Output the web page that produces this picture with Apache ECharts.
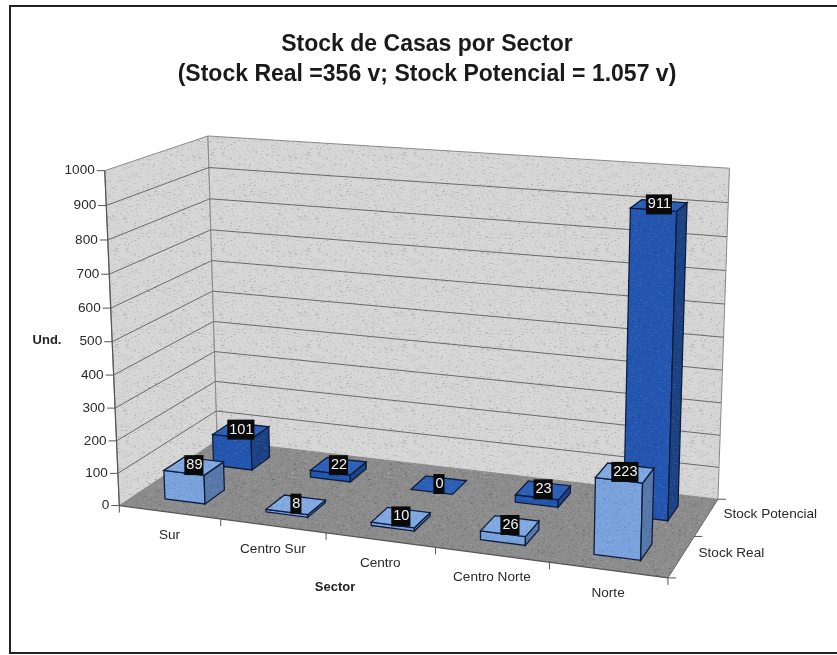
<!DOCTYPE html>
<html><head><meta charset="utf-8">
<style>html,body{margin:0;padding:0;background:#fff}#c{width:837px;height:655px}</style>
<script src="https://cdn.jsdelivr.net/npm/echarts@6/dist/echarts.min.js"></script>
</head><body><div id="c"></div>
<script>
const categories = ['Sur','Centro Sur','Centro','Centro Norte','Norte'];
const seriesNames = ['Stock Real','Stock Potencial'];
const stockReal = [89,8,10,26,223];
const stockPotencial = [101,22,0,23,911];
const yTicks = [0,100,200,300,400,500,600,700,800,900,1000];

// Calibration of the oblique 3D view: [u, depth, v, pixelX, pixelY]
const view = [
 [0,0,0,120,504],[0,0,.5,112,341],[0,0,1,106,170],
 [0,1,0,218,441],[0,1,.5,212,291],[0,1,1,207,136],
 [1,1,0,717,498],[1,1,.5,723,338],[1,1,1,730,169],
 [.2,0,0,221,520],[.4,0,0,325,535],[.6,0,0,435,548],[.8,0,0,548,563],[1,0,0,667,577],
 [1,.5,0,698,535]
];
function fit(obs){
  const n=11,A=[...Array(n)].map(()=>Array(n+1).fill(0));
  const add=(r,b)=>{for(let i=0;i<n;i++){for(let j=0;j<n;j++)A[i][j]+=r[i]*r[j];A[i][n]+=r[i]*b;}};
  obs.forEach(([X,Y,Z,px,py])=>{
    add([X,Y,Z,1,0,0,0,0,-px*X,-px*Y,-px*Z],px);
    add([0,0,0,0,X,Y,Z,1,-py*X,-py*Y,-py*Z],py);
  });
  for(let c=0;c<n;c++){
    let m=c;for(let r=c+1;r<n;r++)if(Math.abs(A[r][c])>Math.abs(A[m][c]))m=r;
    [A[c],A[m]]=[A[m],A[c]];
    for(let r=0;r<n;r++){if(r===c)continue;const f=A[r][c]/A[c][c];for(let j=c;j<=n;j++)A[r][j]-=f*A[c][j];}
  }
  return A.map((row,i)=>row[n]/row[i]);
}
const P=fit(view);
function project(u,d,v){
  const w=P[8]*u+P[9]*d+P[10]*v+1;
  return [(P[0]*u+P[1]*d+P[2]*v+P[3])/w,(P[4]*u+P[5]*d+P[6]*v+P[7])/w];
}
// paper-grain tiles (deterministic)
function tile(rgb,amp,seed){
  const c=document.createElement('canvas');c.width=c.height=96;
  const g=c.getContext('2d');let s=seed;
  const rnd=()=>{s=(s*1664525+1013904223)%4294967296;return s/4294967296;};
  g.fillStyle=`rgb(${rgb})`;g.fillRect(0,0,96,96);
  for(let i=0;i<3200;i++){
    const k=rnd()<.5?0:255;
    g.fillStyle=`rgba(${k},${k},${k},${rnd()*amp})`;
    g.fillRect(Math.floor(rnd()*96),Math.floor(rnd()*96),1+Math.floor(rnd()*2),1);
  }
  return {image:c,repeat:'repeat'};
}
const wallFill=tile('214,214,214',.11,11);
const floorFill=tile('140,140,140',.12,23);
const faceFill=[
 {front:tile('122,163,222',.08,31),side:tile('88,120,170',.08,37),top:tile('130,170,226',.08,41)},
 {front:tile('34,86,176',.08,43),side:tile('28,66,132',.08,47),top:tile('44,96,184',.08,53)}
];
const poly=(pts,fill,stroke,w)=>({type:'polygon',shape:{points:pts},style:{fill,stroke:stroke||'none',lineWidth:w||0}});
const line=(a,b,stroke,w)=>({type:'line',shape:{x1:a[0],y1:a[1],x2:b[0],y2:b[1]},style:{stroke,lineWidth:w||1,fill:null}});
const txt=(x,y,t,o)=>({type:'text',x,y,style:Object.assign({text:t,fill:'#2a2a2a',font:'13.6px "Liberation Sans"',textAlign:'center',textVerticalAlign:'middle'},o||{})});
const norm=(params,api,cat,val)=>{
  const s=params.coordSys,p=api.coord([cat,val]);
  return [(p[0]-s.x)/s.width,(s.y+s.height-p[1])/s.height];
};

function renderWalls(){
  const q=(u,d,v)=>project(u,d,v);
  return {type:'group',children:[
    poly([q(0,0,0),q(0,1,0),q(0,1,1),q(0,0,1)],wallFill,'#8a8a8a',1),
    poly([q(0,1,0),q(1,1,0),q(1,1,1),q(0,1,1)],wallFill,'#8a8a8a',1),
    poly([q(0,0,0),q(1,0,0),q(1,1,0),q(0,1,0)],floorFill),
    line(q(0,0,0),q(0,0,1),'#555',1.2),
    line(q(0,0,0),q(1,0,0),'#555',1.2),
    line(q(1,0,0),q(1,1,0),'#666',1)
  ]};
}
function renderYTick(params,api){
  const val=api.value(1),[,v]=norm(params,api,0,val);
  const a=project(0,0,v),b=project(0,1,v),c=project(1,1,v);
  const ch=[line([a[0]-8,a[1]],a,'#555',1),txt(a[0]-10,a[1],String(val),{textAlign:'right'})];
  if(val>0&&val<1000){ch.push(line(a,b,'#6a6a6a',1),line(b,c,'#6a6a6a',1));}
  return {type:'group',children:ch};
}
function renderXTick(params,api){
  const i=api.value(0),[u]=norm(params,api,i,0),half=api.size([1,0])[0]/2/params.coordSys.width;
  const m=project(u,0,0),e=project(u+half,0,0),s=project(u-half,0,0);
  const ch=[line(e,[e[0],e[1]+7],'#555',1),txt(m[0],m[1]+23,categories[i])];
  if(i===0)ch.push(line(s,[s[0],s[1]+7],'#555',1));
  return {type:'group',children:ch};
}
function renderDepth(params,api){
  const i=params.dataIndex,a=project(1,(i+.5)/seriesNames.length,0),e=project(1,(i+1)/seriesNames.length,0),s=project(1,i/seriesNames.length,0);
  const ch=[line(e,[e[0]+8,e[1]],'#555',1),txt(a[0]+17,a[1]-3,seriesNames[i],{textAlign:'left'})];
  if(i===0)ch.push(line(s,[s[0]+8,s[1]],'#555',1));
  return {type:'group',children:ch};
}
function renderBar(row){
  return function(params,api){
    const i=api.value(0),val=api.value(1),[u,v]=norm(params,api,i,val);
    const hw=api.size([1,0])[0]*0.4/2/params.coordSys.width;
    const d0=(row+.3)/seriesNames.length,d1=(row+.7)/seriesNames.length;
    const F=faceFill[row],ol='#0e1d3d';
    const a=project(u-hw,d0,0),b=project(u+hw,d0,0),c=project(u+hw,d1,0);
    const A=project(u-hw,d0,v),B=project(u+hw,d0,v),C=project(u+hw,d1,v),D=project(u-hw,d1,v);
    const t=project(u,(d0+d1)/2,v);
    const ch=[];
    if(val>0){ch.push(poly([a,b,B,A],F.front,ol,1.3),poly([b,c,C,B],F.side,ol,1.3));}
    ch.push(poly([A,B,C,D],F.top,ol,1.3));
    ch.push(txt(t[0],t[1]-1,String(val),{fill:'#f2f2f2',backgroundColor:'#0a0a0a',padding:[3,1,2,2],font:'14.5px "Liberation Sans"'}));
    return {type:'group',children:ch};
  };
}
const chart=echarts.init(document.getElementById('c'));
const base={type:'custom',silent:true,animation:false,clip:false,coordinateSystem:'cartesian2d'};
chart.setOption({
  animation:false,
  backgroundColor:'#ffffff',
  title:{text:'Stock de Casas por Sector\n(Stock Real =356 v; Stock Potencial = 1.057 v)',left:422,top:25,textAlign:'center',
    textStyle:{fontFamily:'Liberation Sans',fontWeight:'bold',fontSize:23,lineHeight:30,color:'#1a1a1a'}},
  grid:{left:100,right:100,top:100,bottom:100},
  xAxis:{type:'category',data:categories,show:false},
  yAxis:{type:'value',min:0,max:1000,interval:100,show:false},
  graphic:[
    {type:'rect',z:0,silent:true,shape:{x:10,y:6,width:840,height:647},style:{fill:'#fff',stroke:'#222',lineWidth:2}},
    {type:'text',z:50,silent:true,x:47,y:340,style:{text:'Und.',font:'bold 13px "Liberation Sans"',fill:'#222',textAlign:'center',textVerticalAlign:'middle'}},
    {type:'text',z:50,silent:true,x:335,y:587,style:{text:'Sector',font:'bold 13px "Liberation Sans"',fill:'#222',textAlign:'center',textVerticalAlign:'middle'}}
  ],
  series:[
    Object.assign({},base,{name:'walls',z:1,data:[[0,0]],renderItem:renderWalls}),
    Object.assign({},base,{name:'yTicks',z:2,data:yTicks.map(t=>[0,t]),renderItem:renderYTick}),
    Object.assign({},base,{name:'categories',z:2,data:categories.map((c,i)=>[i,0]),renderItem:renderXTick}),
    Object.assign({},base,{name:'depth',z:2,data:seriesNames.map((n,i)=>[0,i]),renderItem:renderDepth}),
    Object.assign({},base,{name:seriesNames[1],z:3,data:stockPotencial.map((v,i)=>[i,v]),renderItem:renderBar(1)}),
    Object.assign({},base,{name:seriesNames[0],z:4,data:stockReal.map((v,i)=>[i,v]),renderItem:renderBar(0)})
  ]
});
</script></body></html>
